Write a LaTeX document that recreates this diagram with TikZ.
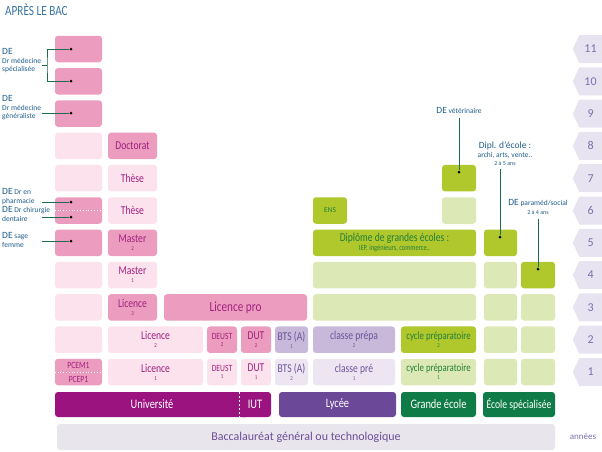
\documentclass[tikz,border=0pt]{standalone}
\usepackage{fontspec}
\setmainfont{Carlito}
\newfontfamily\cond[FakeStretch=0.8]{Carlito}
\usetikzlibrary{shapes.symbols}

\definecolor{pinkD}{HTML}{EC9DBF}
\definecolor{pinkL}{HTML}{FBE2EC}
\definecolor{magT}{HTML}{A0207F}
\definecolor{lavM}{HTML}{C8B8D9}
\definecolor{lavL}{HTML}{EDE6F2}
\definecolor{lavT}{HTML}{6E5499}
\definecolor{greenD}{HTML}{B1C82C}
\definecolor{greenL}{HTML}{DCE8B5}
\definecolor{greenT}{HTML}{227F3A}
\definecolor{univC}{HTML}{9B137F}
\definecolor{lycC}{HTML}{6B4898}
\definecolor{ecoC}{HTML}{0F7B46}
\definecolor{bacC}{HTML}{E9E5EC}
\definecolor{bacT}{HTML}{6B4E98}
\definecolor{tabC}{HTML}{E7E3F1}
\definecolor{tabT}{HTML}{7C70AD}
\definecolor{blueT}{HTML}{1E5D8C}
\definecolor{titleT}{HTML}{3A76A5}
\definecolor{linkC}{HTML}{1B6B4C}

\newcommand\DEsize{\fontsize{9.5}{10}\selectfont}
\newcommand\subn[1]{\\[-3pt]{\fontsize{6}{6}\selectfont #1}}

\begin{document}
\begin{tikzpicture}[x=1pt,y=-1pt]
        \tikzstyle{cellbox}=[rounded corners=3pt,minimum height=26.5pt,inner sep=0pt,align=center,font=\cond\fontsize{12}{11}\selectfont]
        \tikzstyle{pd}=[cellbox,fill=pinkD,text=magT]
        \tikzstyle{pl}=[cellbox,fill=pinkL,text=magT]
        \tikzstyle{lm}=[cellbox,fill=lavM,text=lavT]
        \tikzstyle{ll}=[cellbox,fill=lavL,text=lavT]
        \tikzstyle{gd}=[cellbox,fill=greenD,text=greenT]
        \tikzstyle{gl}=[cellbox,fill=greenL,text=greenT]
        \tikzstyle{barbox}=[cellbox,minimum height=25pt,text=white,font=\cond\fontsize{13}{13}\selectfont]
        \tikzstyle{yeartab}=[signal,signal to=west,signal pointer angle=130,fill=tabC,text=tabT,minimum width=29pt,minimum height=28pt,inner sep=0pt,anchor=east,font=\fontsize{12}{12}\selectfont]
        \tikzstyle{lbltext}=[anchor=west,align=left,inner sep=0pt,text=blueT,font=\fontsize{7.5}{8.5}\selectfont]
        \tikzstyle{blob}=[circle,fill=black,inner sep=0pt,minimum size=3pt]
        \tikzstyle{linkline}=[draw=linkC,line width=0.8pt]

        \useasboundingbox (0,0) rectangle (602,451);

        \node[anchor=west,inner sep=0pt,text=titleT,font=\cond\fontsize{14}{14}\selectfont] (title) at (5,10) {APRÈS LE BAC};

        % year 11 to 8
        \node[pd,minimum width=47pt] (a11) at (78.5,49) {};
        \node[pd,minimum width=47pt] (a10) at (78.5,81.3) {};
        \node[pd,minimum width=47pt] (a9) at (78.5,113.6) {};
        \node[pl,minimum width=47pt] (a8) at (78.5,145.9) {};
        \node[pd,minimum width=49pt] (b8) at (132.5,145.9) {Doctorat};

        % year 7 and 6
        \node[pl,minimum width=47pt] (a7) at (78.5,178.2) {};
        \node[pl,minimum width=49pt] (b7) at (132.5,178.2) {Thèse};
        \node[gd,minimum width=34pt] (vet7) at (459,178.2) {};
        \node[pd,minimum width=47pt] (a6) at (78.5,210.5) {};
        \node[pl,minimum width=49pt] (b6) at (132.5,210.5) {Thèse};
        \node[gd,minimum width=34pt,font=\fontsize{7.5}{8}\selectfont] (ens) at (330,210.5) {ENS};
        \node[gl,minimum width=34pt] (vet6) at (459,210.5) {};
        \draw[white,dotted,line width=0.8pt] (a6.west) -- (a6.east);

        % year 5 and 4
        \node[pd,minimum width=47pt] (a5) at (78.5,242.8) {};
        \node[pd,minimum width=49pt] (b5) at (132.5,242.8) {Master\subn{2}};
        \node[gd,minimum width=163pt] (dge) at (394.5,242.8) {Diplôme de grandes écoles :\\[-2pt]{\fontsize{8}{8}\selectfont IEP, ingénieurs, commerce..}};
        \node[gd,minimum width=33pt] (g15) at (500.5,242.8) {};
        \node[pl,minimum width=47pt] (a4) at (78.5,275.1) {};
        \node[pl,minimum width=49pt] (b4) at (132.5,275.1) {Master\subn{1}};
        \node[gl,minimum width=163pt] (big4) at (394.5,275.1) {};
        \node[gl,minimum width=33pt] (g14) at (500.5,275.1) {};
        \node[gd,minimum width=34pt] (g24) at (538,275.1) {};

        % year 3
        \node[pl,minimum width=47pt] (a3) at (78.5,307.4) {};
        \node[pd,minimum width=49pt] (b3) at (132.5,307.4) {Licence\subn{3}};
        \node[pd,minimum width=143pt,font=\cond\fontsize{14}{14}\selectfont] (lpro) at (235.5,307.4) {Licence pro};
        \node[gl,minimum width=163pt] (big3) at (394.5,307.4) {};
        \node[gl,minimum width=33pt] (g13) at (500.5,307.4) {};
        \node[gl,minimum width=34pt] (g23) at (538,307.4) {};

        % year 2
        \node[pl,minimum width=47pt] (a2) at (78.5,339.7) {};
        \node[pl,minimum width=95pt] (lic2) at (155.5,339.7) {Licence\subn{2}};
        \node[pd,minimum width=30pt,font=\cond\fontsize{9.5}{10}\selectfont] (deust2) at (222,339.7) {DEUST\subn{2}};
        \node[pd,minimum width=30pt] (dut2) at (256,339.7) {DUT\subn{2}};
        \node[lm,minimum width=33pt] (bts2) at (291.5,339.7) {BTS (A)\subn{1}};
        \node[lm,minimum width=82pt] (cp2) at (354,339.7) {classe prépa\subn{2}};
        \node[gd,minimum width=75pt,font=\cond\fontsize{11}{11}\selectfont] (cy2) at (438.5,339.7) {cycle préparatoire\subn{2}};
        \node[gl,minimum width=33pt] (g12) at (500.5,339.7) {};
        \node[gl,minimum width=34pt] (g22) at (538,339.7) {};

        % year 1
        \node[pd,minimum width=47pt,font=\cond\fontsize{9.5}{13}\selectfont] (a1) at (78.5,372) {};
        \node[pl,minimum width=95pt] (lic1) at (155.5,372) {Licence\subn{1}};
        \node[pl,minimum width=30pt,font=\cond\fontsize{9.5}{10}\selectfont] (deust1) at (222,372) {DEUST\subn{1}};
        \node[pl,minimum width=30pt] (dut1) at (256,372) {DUT\subn{1}};
        \node[ll,minimum width=33pt] (bts1) at (291.5,372) {BTS (A)\subn{2}};
        \node[ll,minimum width=82pt] (cp1) at (354,372) {classe pré\subn{1}};
        \node[gl,minimum width=75pt,font=\cond\fontsize{11}{11}\selectfont] (cy1) at (438.5,372) {cycle préparatoire\subn{1}};
        \node[gl,minimum width=33pt] (g11) at (500.5,372) {};
        \node[gl,minimum width=34pt] (g21) at (538,372) {};
        \draw[white,dotted,line width=0.8pt] (a1.west) -- (a1.east);
        \node[inner sep=0pt,text=magT,font=\cond\fontsize{9.5}{10}\selectfont] (pcem) at (78.5,365) {PCEM1};
        \node[inner sep=0pt,text=magT,font=\cond\fontsize{9.5}{10}\selectfont] (pcep) at (78.5,379) {PCEP1};

        % schools
        \node[barbox,fill=univC,minimum width=194pt] (univ) at (152,404.5) {Université};
        \node[barbox,fill=univC,minimum width=32pt] (iut) at (255,404.5) {IUT};
        \draw[white,dashed,dash pattern=on 2pt off 2pt,line width=0.6pt] (iut.north west) -- (iut.south west);
        \node[barbox,fill=lycC,minimum width=117pt] (lycee) at (337.5,404.5) {Lycée};
        \node[barbox,fill=ecoC,minimum width=75pt] (ge) at (438.5,404.5) {Grande école};
        \node[barbox,fill=ecoC,minimum width=72pt,font=\cond\fontsize{12}{12}\selectfont] (es) at (519,404.5) {École spécialisée};
        \node[cellbox,fill=bacC,text=bacT,minimum width=498pt,minimum height=26pt,font=\fontsize{12}{12}\selectfont] (bac) at (306,437) {Baccalauréat général ou technologique};
        \node[inner sep=0pt,text=tabT,font=\fontsize{9}{9}\selectfont] (annees) at (583,436) {années};

        % years
        \node[yeartab] (y1) at (602,372) {1};
        \node[yeartab] (y2) at (602,339.7) {2};
        \node[yeartab] (y3) at (602,307.4) {3};
        \node[yeartab] (y4) at (602,275.1) {4};
        \node[yeartab] (y5) at (602,242.8) {5};
        \node[yeartab] (y6) at (602,210.5) {6};
        \node[yeartab] (y7) at (602,178.2) {7};
        \node[yeartab] (y8) at (602,145.9) {8};
        \node[yeartab] (y9) at (602,113.6) {9};
        \node[yeartab] (y10) at (602,81.3) {10};
        \node[yeartab] (y11) at (602,49) {11};

        % DE labels, left
        \node[lbltext] (l11) at (2,61) {{\DEsize DE}\\Dr médecine\\spécialisée};
        \node[lbltext] (l9) at (2,108) {{\DEsize DE}\\Dr médecine\\généraliste};
        \node[lbltext] (l6a) at (2,196.5) {{\DEsize DE} Dr en\\pharmacie};
        \node[lbltext] (l6b) at (2,214) {{\DEsize DE} Dr chirurgie\\dentaire};
        \node[lbltext] (l5) at (2,240) {{\DEsize DE} sage\\femme};

        \node[blob] (d11) at (71,49) {};
        \node[blob] (d10) at (71,81) {};
        \node[blob] (d9) at (71,113) {};
        \node[blob] (d6a) at (71,202) {};
        \node[blob] (d6b) at (71,217) {};
        \node[blob] (d5) at (71,241) {};
        \coordinate (k11) at (47,65);
        \coordinate (s11) at (42,65);
        \coordinate (s9) at (42,113);
        \coordinate (s6a) at (42,202);
        \coordinate (s6b) at (42,217);
        \coordinate (s5) at (42,241);

        \draw[linkline] (s11) -- (k11);
        \draw[linkline] (d11) -| (k11) |- (d10);
        \draw[linkline] (s9) -- (d9);
        \draw[linkline] (s6a) -- (d6a);
        \draw[linkline] (s6b) -- (d6b);
        \draw[linkline] (s5) -- (d5);

        % DE labels, right
        \node[lbltext,anchor=center,align=center] (devet) at (459,110) {{\DEsize DE} vétérinaire};
        \node[lbltext,anchor=center,align=center] (dipl) at (505,154) {{\DEsize Dipl. d'école :}\\archi, arts, vente..\\{\fontsize{6}{6}\selectfont 2 à 5 ans}};
        \node[lbltext,anchor=center,align=center] (para) at (538,207) {{\DEsize DE} paraméd/social\\{\fontsize{6}{6}\selectfont 2 à 4 ans}};

        \node[blob] (dv) at (459,172) {};
        \node[blob] (dd) at (500,237) {};
        \node[blob] (dp) at (538,269) {};

        \draw[linkline,shorten <=5pt] (devet) -- (dv);
        \draw[linkline,shorten <=3pt] (dipl.south -| dd) -- (dd);
        \draw[linkline,shorten <=4pt] (para) -- (dp);

    \end{tikzpicture}
\end{document}
